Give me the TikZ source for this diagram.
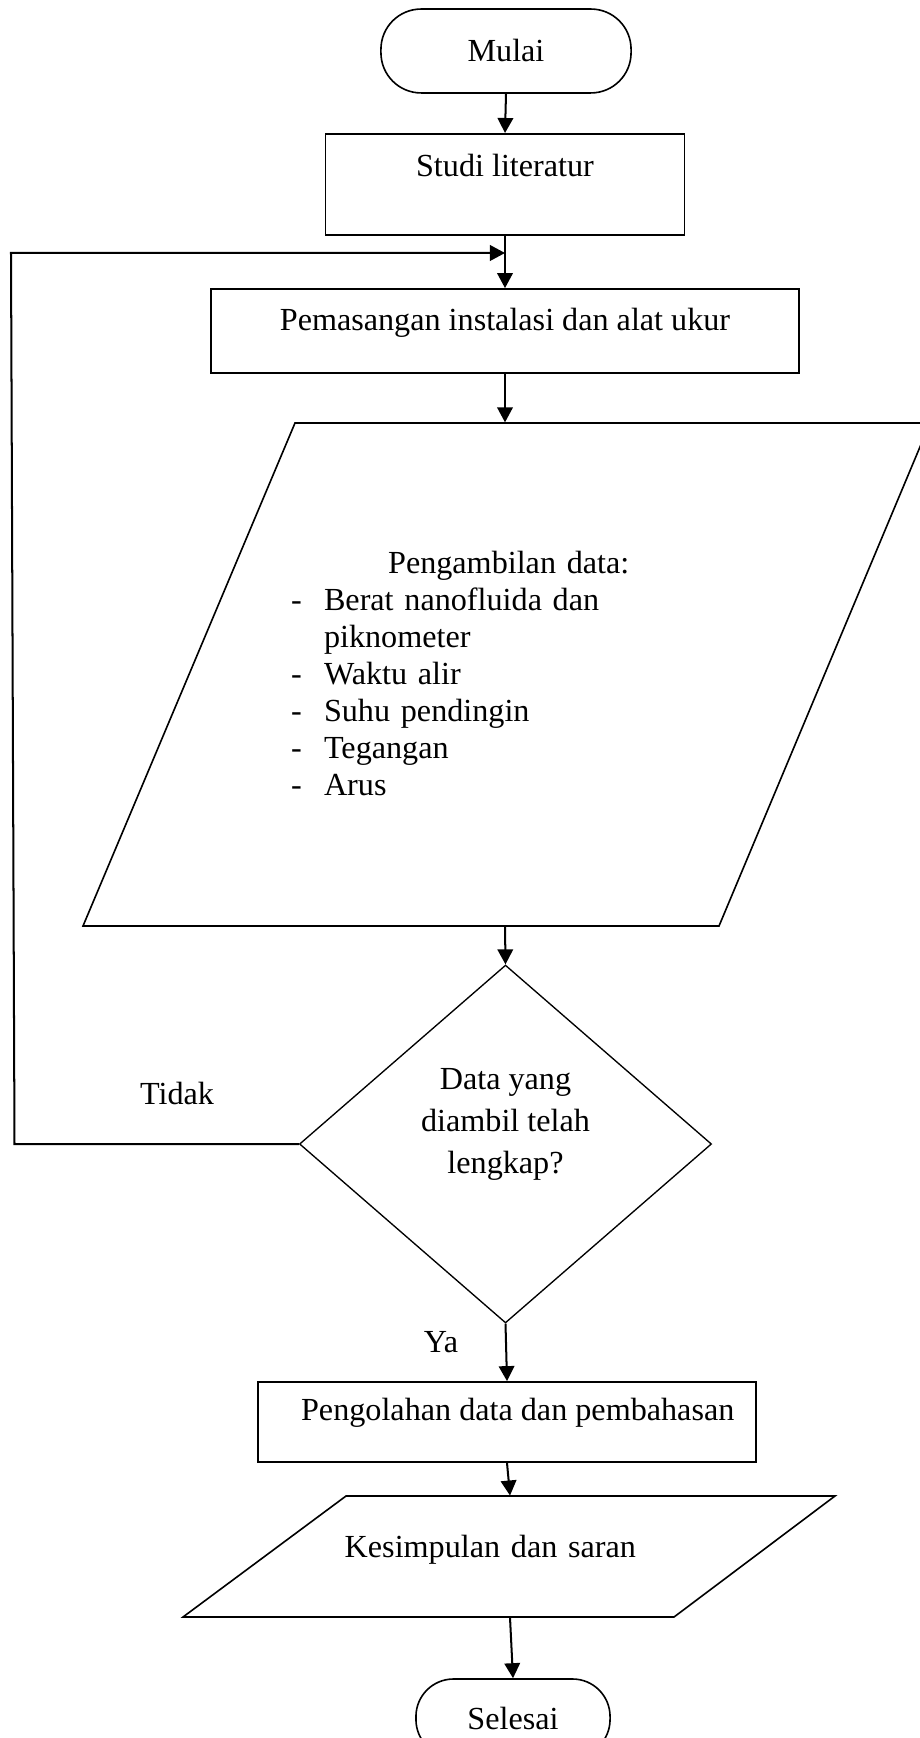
\documentclass[tikz,border=0pt]{standalone}
\usepackage{fontspec}
\setmainfont{Liberation Serif}
\usepackage{tikz}
\usetikzlibrary{shapes.geometric}
\usetikzlibrary{arrows.meta}

\begin{document}
\begin{tikzpicture}[x=0.373pt,y=-0.373pt]

    \useasboundingbox (0,0) rectangle (919,1738);
    \tikzstyle{every node}=[inner sep=0pt,font=\fontsize{12}{13.8}\selectfont]
    \tikzstyle{term}=[draw,line width=0.6pt,rounded corners=15pt]
    \tikzstyle{box}=[draw,line width=0.7pt,rectangle]
    \tikzstyle{arr}=[line width=0.75pt,-{Triangle[length=5.6pt,width=5.8pt]}]

    \node[term,minimum width=93.3pt,minimum height=31.3pt](mulai) at (506,51){Mulai};
    \node[box,minimum width=133.9pt,text height=15.7pt,text depth=22pt](studi) at (505,184.5){Studi literatur\hspace{3pt}};
    \node[box,minimum width=219.3pt,text height=15.3pt,text depth=16pt](pasang) at (505,331){Pemasangan instalasi dan alat ukur};
    \node[text width=159.6pt,text height=56pt,text depth=131.7pt](data) at (505,674.5){%
      \begin{tabular}[t]{@{}p{12.3pt}@{}l@{}}
      \multicolumn{2}{@{}l@{}}{\hspace{36.2pt}Pengambilan data:}\\
      -&Berat nanofluida dan\\
      &piknometer\\
      -&Waktu alir\\
      -&Suhu pendingin\\
      -&Tegangan\\
      -&Arus
      \end{tabular}};
    \node[draw,diamond,line width=0.5pt,minimum width=153.7pt,minimum height=133.5pt,text height=0pt,text depth=40.3pt](cek) at (505.5,1144){%
      \begin{tabular}[t]{@{}c@{}}Data yang\\[1.7pt]diambil telah\\[1.7pt]lengkap?\end{tabular}};
    \node[box,minimum width=185.8pt,text height=14.5pt,text depth=15.3pt](olah) at (507,1422){\hspace{8pt}Pengolahan data dan pembahasan};
    \node[text width=123.3pt,text height=23.1pt,text depth=22pt](simpul) at (510,1556.5){Kesimpulan dan saran};
    \node[term,minimum width=72.4pt,minimum height=29.1pt,rounded corners=14pt](selesai) at (513,1718){Selesai};

    \node(tidak) at (177,1093){Tidak};
    \node(ya) at (441,1342){Ya};

    % parallelograms
    \draw[line width=0.6pt] (295,423)--(930,423)--(719,926)--(83,926)--cycle;
    \draw[line width=0.6pt] (346,1496)--(835,1496)--(674,1617)--(183,1617)--cycle;

    \coordinate (masuk) at (505,253);
    \coordinate (kiri1) at (14.5,1144);
    \coordinate (kiri2) at (11,253);

    \draw[arr](mulai.south)--(studi.north);
    \draw[arr](studi.south)--(pasang.north);
    \draw[arr](pasang.south)--(data.north);
    \draw[arr](data.south)--(cek.north);
    \draw[arr](cek.south)--(olah.north);
    \draw[arr](olah.south)--(simpul.north);
    \draw[arr](simpul.south)--(selesai.north);

    % back to pemasangan
    \draw[arr](cek.west)--(kiri1)--(kiri2)--(masuk);

\end{tikzpicture}
\end{document}
